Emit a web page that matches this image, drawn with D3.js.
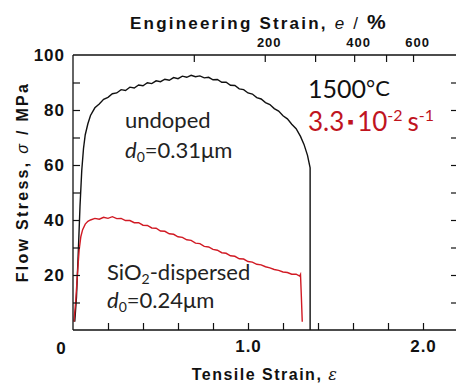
<!DOCTYPE html>
<html><head><meta charset="utf-8">
<script src="https://cdn.jsdelivr.net/npm/d3@7"></script>
<style>
html,body{margin:0;padding:0;background:#fff;}
svg{display:block;}
.ax{font-family:"Liberation Sans",Arial,sans-serif;font-weight:bold;fill:#111;}
.ann{font-family:Lato,"Open Sans",sans-serif;}
</style></head>
<body>
<svg id="c" width="456" height="384"></svg>
<script>
// ---- data ----
const undopedStrain = [0.010,0.020,0.030,0.040,0.050,0.060,0.070,0.085,0.100,0.125,0.150,0.175,0.200,0.225,0.250,0.275,0.300,0.325,0.350,0.375,0.400,0.425,0.450,0.475,0.500,0.525,0.550,0.575,0.600,0.625,0.650,0.675,0.700,0.725,0.750,0.775,0.800,0.825,0.850,0.875,0.900,0.925,0.950,0.975,1.000,1.025,1.050,1.075,1.100,1.125,1.150,1.175,1.200,1.225,1.250,1.275,1.300,1.320,1.340,1.355,1.355];
const undopedStress = [3,12,28,45,58,66,71,75,78.0,80.8,82.2,83.9,84.6,85.9,86.2,87.4,87.1,88.3,88.0,89.1,88.8,89.9,89.6,90.6,90.3,91.2,90.8,91.8,91.4,92.3,91.9,92.6,92.1,92.4,91.7,91.9,91.0,91.1,90.1,90.1,89.0,88.9,87.7,87.4,86.2,85.8,84.5,84.0,82.7,82.0,80.5,79.6,77.9,76.8,74.8,73.2,70.4,67.5,63.5,59.0,0];
const sioStrain = [0.005,0.015,0.025,0.035,0.045,0.055,0.070,0.085,0.100,0.125,0.150,0.175,0.200,0.225,0.250,0.275,0.300,0.325,0.350,0.375,0.400,0.425,0.450,0.475,0.500,0.525,0.550,0.575,0.600,0.625,0.650,0.675,0.700,0.725,0.750,0.775,0.800,0.825,0.850,0.875,0.900,0.925,0.950,0.975,1.000,1.025,1.050,1.075,1.100,1.125,1.150,1.175,1.200,1.225,1.250,1.275,1.295,1.300,1.305,1.310];
const sioStress = [3,10,20,29,34,36.5,38.5,39.5,40.0,40.6,40.3,41.0,40.6,41.2,40.5,40.6,39.8,39.8,39.0,39.0,38.1,38.0,37.1,37.0,36.0,35.9,35.0,34.8,33.9,33.7,32.8,32.6,31.6,31.4,30.4,30.2,29.3,29.0,28.1,27.9,27.0,26.8,25.9,25.8,24.9,24.7,23.9,23.7,23.0,22.6,22.0,21.7,21.1,20.9,20.3,20.3,19.6,20.2,12,3];
const yTickLabels = [20,40,60,80,100];
const yMinorTicks = [10,20,30,40,50,60,70,80,90];
const xTickLabels = [1.0,2.0];
const xMinorTicks = [0.2,0.4,0.6,0.8,1.0,1.2,1.4,1.6,1.8,2.0];
const topTicks = [100,200,300,400,500,600];
const topTickLabels = [200,400,600];

// ---- layout ----
const svg = d3.select("#c");
const L=73, R=458, T=55, B=330;
const x = d3.scaleLinear().domain([0,2.2]).range([L,R]);
const y = d3.scaleLinear().domain([0,100]).range([B,T]);
const eng = e => x(Math.log(1+e/100));

// curves
const line = d3.line().x(d=>x(d[0])).y(d=>y(d[1]));
svg.append("path").datum(undopedStrain.map((s,i)=>[s,undopedStress[i]]))
  .attr("d",line).attr("fill","none").attr("stroke","#111").attr("stroke-width",1.4);
svg.append("path").datum(sioStrain.map((s,i)=>[s,sioStress[i]]))
  .attr("d",line).attr("fill","none").attr("stroke","#d11a24").attr("stroke-width",1.4);

// frame
const fr = svg.append("g").attr("stroke","#111").attr("stroke-width",1.3);
fr.append("line").attr("x1",L).attr("x2",R).attr("y1",B).attr("y2",B);
fr.append("line").attr("x1",L).attr("x2",R).attr("y1",T).attr("y2",T);
fr.append("line").attr("x1",L).attr("x2",L).attr("y1",T).attr("y2",B);
fr.append("line").attr("x1",R).attr("x2",R).attr("y1",T).attr("y2",B);

function ticksOnly(g){ g.select(".domain").remove(); g.selectAll("line").attr("stroke","#111").attr("stroke-width",1.2); g.selectAll("text").remove(); }
svg.append("g").attr("transform",`translate(${L},0)`).call(d3.axisLeft(y).tickValues(yMinorTicks).tickSize(-7)).call(ticksOnly);
svg.append("g").attr("transform",`translate(${R},0)`).call(d3.axisRight(y).tickValues(yMinorTicks).tickSize(-7)).call(ticksOnly);
svg.append("g").attr("transform",`translate(0,${B})`).call(d3.axisBottom(x).tickValues(xMinorTicks).tickSize(-7)).call(ticksOnly);
svg.append("g").attr("class","topt").selectAll("line").data(topTicks).join("line")
  .attr("x1",d=>eng(d)).attr("x2",d=>eng(d)).attr("y1",T).attr("y2",T+7).attr("stroke","#111").attr("stroke-width",1.2);

// labels
function labelsOnly(g){ g.select(".domain").remove(); g.selectAll("line").remove(); g.selectAll("text").attr("class","ax").style("font-size","17px").style("letter-spacing","1px"); }
svg.append("g").attr("transform",`translate(${L},0)`).call(d3.axisLeft(y).tickValues(yTickLabels).tickSize(0).tickPadding(8)).call(labelsOnly)
  .attr("font-family",null);
svg.append("g").attr("transform",`translate(0,${B})`).call(d3.axisBottom(x).tickValues(xTickLabels).tickFormat(d3.format(".1f")).tickSize(0).tickPadding(10)).call(labelsOnly)
  .attr("font-family",null);
svg.append("text").attr("class","ax").attr("x",61).attr("y",354).attr("text-anchor","middle").style("font-size","17px").text("0");
svg.append("g").selectAll("text").data(topTickLabels).join("text").attr("class","ax")
  .attr("x",d=>eng(d)+4).attr("y",47).attr("text-anchor","middle").style("font-size","13px").style("letter-spacing","1px").text(d=>d);

// axis titles
const tt = svg.append("text").attr("class","ax").attr("x",259).attr("y",29).attr("text-anchor","middle").style("font-size","17px").style("letter-spacing","2.2px");
tt.append("tspan").text("Engineering Strain, ");
tt.append("tspan").attr("font-style","italic").attr("font-weight","normal").text("e");
tt.append("tspan").attr("font-weight","normal").text(" / ");
tt.append("tspan").style("font-size","21px").text("%");

const xt = svg.append("text").attr("class","ax").attr("x",265).attr("y",380).attr("text-anchor","middle").style("font-size","16px").style("letter-spacing","1.5px");
xt.append("tspan").text("Tensile Strain, ");
xt.append("tspan").attr("font-style","italic").attr("font-weight","normal").attr("font-family","'DejaVu Serif',serif").text("ε");

const yt = svg.append("text").attr("class","ax").attr("transform","translate(28,182) rotate(-90)").attr("text-anchor","middle").style("font-size","16px").style("letter-spacing","2.3px");
yt.append("tspan").text("Flow Stress, ");
yt.append("tspan").attr("font-style","italic").attr("font-weight","normal").text("σ");
yt.append("tspan").text(" / MPa");

// annotations
svg.append("text").attr("class","ann").attr("x",125).attr("y",128).attr("fill","#222").style("font-size","22px").text("undoped");
function dtext(xp,yp,val){
  const t = svg.append("text").attr("class","ann").attr("x",xp).attr("y",yp).attr("fill","#222").style("font-size","22px");
  t.append("tspan").attr("font-style","italic").text("d");
  t.append("tspan").attr("dy",4).style("font-size","14px").text("0");
  t.append("tspan").attr("dy",-4).text("="+val+"μm");
}
dtext(125,158,"0.31");
const s1 = svg.append("text").attr("class","ann").attr("x",107).attr("y",280).attr("fill","#222").style("font-size","22px");
s1.append("tspan").text("SiO");
s1.append("tspan").attr("dy",4).style("font-size","14px").text("2");
s1.append("tspan").attr("dy",-4).text("-dispersed");
dtext(107,308,"0.24");

const t1 = svg.append("text").attr("class","ann").attr("x",308).attr("y",98).attr("fill","#111").style("font-size","25px");
t1.append("tspan").text("1500");
t1.append("tspan").attr("dy",-2).style("font-size","22px").text("°C");
const r1 = svg.append("text").attr("class","ann").attr("x",308).attr("y",131).attr("fill","#c0141e").style("font-size","26px");
r1.append("tspan").text("3.3");
r1.append("tspan").attr("dx",3).attr("dy",-3).style("font-size","17px").text("▪");
r1.append("tspan").attr("dx",3).attr("dy",3).text("10");
r1.append("tspan").attr("dy",-10).style("font-size","16px").text("-2");
r1.append("tspan").attr("dx",5).attr("dy",10).text("s");
r1.append("tspan").attr("dy",-10).style("font-size","16px").text("-1");
</script>
</body></html>
